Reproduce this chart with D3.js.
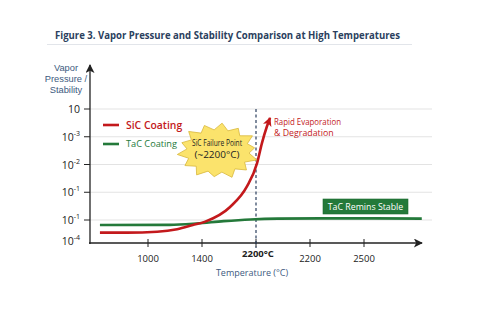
<!DOCTYPE html>
<html><head><meta charset="utf-8">
<script src="https://cdn.jsdelivr.net/npm/d3@7/dist/d3.min.js"></script>
<style>
html,body{margin:0;padding:0;background:#fff;}
svg{display:block;font-family:"Open Sans",sans-serif;}
</style></head>
<body>
<svg id="chart" width="500" height="333"></svg>
<script>
// ---- data ----
const title = "Figure 3. Vapor Pressure and Stability Comparison at High Temperatures";
const xTickLabels = ["1000", "1400", "2200°C", "2200", "2500"];     // positions 0..4
const yTickLevels = [0, 1, 2, 3, 4, 5];
const yTickBase = ["10", "10", "10", "10", "10", "10"];
const yTickExp = ["-4", "-1", "-1", "-2", "-3", ""];
const yLabelLines = ["Vapor", "Pressure /", "Stability"];
const burstLines = ["SiC Failure Point", "(~2200°C)"];
const failureX = 2; // index of 2200°C
// SiC coating curve: [x index, level]
const sicX = [-0.89, -0.39, 0.17, 0.54, 0.83, 1.06, 1.52, 1.83, 2.02, 2.11, 2.2, 2.26];
const sicY = [0.45, 0.45, 0.49, 0.6, 0.78, 0.93, 1.47, 2.2, 3.05, 3.77, 4.36, 4.68];
// TaC coating curve
const tacX = [-0.89, 0.4, 0.9, 1.4, 1.9, 2.4, 3.2, 4.2, 5.07];
const tacY = [0.78, 0.79, 0.85, 0.95, 1.02, 1.05, 1.06, 1.06, 1.05];

const red = "#c3191c", green = "#24793a", navy = "#2b3f5e", slate = "#3d5a80";

const svg = d3.select("#chart");
const x = d3.scaleLinear().domain([0, 4]).range([148, 364]);
const y = d3.scaleLinear().domain([0, 1, 5]).range([243, 220, 109]);
const x0 = 90, xEnd = 422, yTop = 65;

// defs arrow markers
const defs = svg.append("defs");
function marker(id, color, w, h) {
  defs.append("marker").attr("id", id).attr("viewBox", "0 0 10 10")
    .attr("refX", 9).attr("refY", 5).attr("markerWidth", w).attr("markerHeight", h)
    .attr("markerUnits", "userSpaceOnUse").attr("orient", "auto")
    .append("path").attr("d", "M0,0 L10,5 L0,10 L2.5,5 Z").attr("fill", color);
}
marker("axArrow", "#222", 12, 9);
marker("redArrow", red, 10, 9);

// title
svg.append("text").attr("x", 55).attr("y", 39).attr("fill", navy)
  .attr("font-size", 10.8).attr("font-weight", 700).text(title)
  .attr("textLength", 345).attr("lengthAdjust", "spacingAndGlyphs");
svg.append("line").attr("x1", 47).attr("x2", 412).attr("y1", 44.5).attr("y2", 44.5)
  .attr("stroke", "#e2e5ea").attr("stroke-width", 1);

// gridlines
svg.append("g").selectAll("line").data(yTickLevels.filter(d => d > 0)).join("line")
  .attr("x1", x0).attr("x2", 432).attr("y1", d => y(d)).attr("y2", d => y(d))
  .attr("stroke", "#e3e3e3").attr("stroke-width", 1);

// y axis
const yAxis = svg.append("g");
yAxis.append("line").attr("x1", x0).attr("x2", x0).attr("y1", y(0) + 1).attr("y2", yTop)
  .attr("stroke", "#222").attr("stroke-width", 1.3).attr("marker-end", "url(#axArrow)");
yAxis.selectAll("line.tk").data(yTickLevels.filter(d => d > 0)).join("line").attr("class", "tk")
  .attr("x1", x0 - 6).attr("x2", x0).attr("y1", d => y(d)).attr("y2", d => y(d))
  .attr("stroke", "#222").attr("stroke-width", 1);
const ytl = yAxis.selectAll("text.tl").data(yTickLevels).join("text").attr("class", "tl")
  .attr("x", 80).attr("y", d => y(d) + (d === 0 ? 2 : 4)).attr("text-anchor", "end")
  .attr("font-size", 10.5).attr("fill", "#222");
ytl.append("tspan").text((d, i) => yTickBase[i]);
ytl.append("tspan").attr("dy", -5).attr("font-size", 7).text((d, i) => yTickExp[i]);

// y label
svg.append("g").selectAll("text").data(yLabelLines).join("text")
  .attr("text-anchor", "middle").attr("font-family", "'Liberation Sans', Arial, sans-serif")
  .attr("font-size", 9.3).attr("fill", slate)
  .attr("x", 66).attr("y", (d, i) => 71 + i * 10.8).text(d => d);

// x axis
const xAxis = svg.append("g");
xAxis.append("line").attr("x1", x0 - 1).attr("x2", xEnd).attr("y1", y(0)).attr("y2", y(0))
  .attr("stroke", "#222").attr("stroke-width", 1.3).attr("marker-end", "url(#axArrow)");
xAxis.selectAll("line.tk").data(xTickLabels).join("line").attr("class", "tk")
  .attr("x1", (d, i) => x(i)).attr("x2", (d, i) => x(i)).attr("y1", y(0) - 4).attr("y2", y(0) + 4)
  .attr("stroke", "#222").attr("stroke-width", 1);
xAxis.selectAll("text").data(xTickLabels).join("text")
  .attr("x", (d, i) => x(i) + (i === failureX ? 2 : 0)).attr("y", (d, i) => i === failureX ? 257 : 262)
  .attr("text-anchor", "middle").attr("font-size", 9.5)
  .attr("font-weight", (d, i) => i === failureX ? 700 : 400).attr("fill", "#222").text(d => d);
svg.append("text").attr("x", 252).attr("y", 276).attr("text-anchor", "middle")
  .attr("font-size", 9).attr("fill", slate).text("Temperature (°C)");

// dashed failure line
svg.append("line").attr("x1", x(failureX)).attr("x2", x(failureX)).attr("y1", 109).attr("y2", 248)
  .attr("stroke", navy).attr("stroke-width", 1.2).attr("stroke-dasharray", "3,2.5");

// curves
const line = d3.line().x(d => x(d[0])).y(d => y(d[1])).curve(d3.curveMonotoneX);
svg.append("path").datum(d3.zip(tacX, tacY)).attr("d", line)
  .attr("fill", "none").attr("stroke", green).attr("stroke-width", 2.6);
svg.append("path").datum(d3.zip(sicX, sicY)).attr("d", line)
  .attr("fill", "none").attr("stroke", red).attr("stroke-width", 2.6).attr("marker-end", "url(#redArrow)");

// legend
const legend = [["SiC Coating", red, 125, 10.4, 600], ["TaC Coating", green, 144, 9.2, 400]];
legend.forEach(([t, c, yy, fs, fw]) => {
  svg.append("line").attr("x1", 103).attr("x2", 119).attr("y1", yy).attr("y2", yy)
    .attr("stroke", c).attr("stroke-width", 2.6);
  svg.append("text").attr("x", 126).attr("y", yy + fs * 0.36).attr("font-size", fs)
    .attr("font-weight", fw).attr("fill", c).text(t);
});

// starburst
const cx = 218, cy = 151, rx = 41, ry = 28;
const spikes = [1, 0.95, 1, 0.9, 1, 0.97, 1, 0.92, 1, 0.96, 1, 0.93, 1, 0.97];
const n = spikes.length;
const pts = d3.range(n * 2).map(i => {
  const a = Math.PI * i / n - Math.PI / 2 + 0.1;
  const r = i % 2 === 0 ? spikes[i / 2] : 0.76;
  return [cx + Math.cos(a) * rx * r, cy + Math.sin(a) * ry * r];
});
svg.append("path").attr("d", "M" + pts.join("L") + "Z")
  .attr("fill", "#fbe36c").attr("stroke", "#d8b83c").attr("stroke-width", 0.8);
svg.append("g").selectAll("text").data(burstLines).join("text")
  .attr("text-anchor", "middle").attr("font-size", 9).attr("fill", "#222")
  .attr("x", cx - 1).attr("y", (d, i) => 146 + i * 11.5).text(d => d)
  .attr("textLength", (d, i) => i === 0 ? 50 : 45).attr("lengthAdjust", "spacingAndGlyphs");

// rapid evaporation
svg.append("text").attr("font-size", 8.8).attr("fill", red)
  .selectAll("tspan").data(["Rapid Evaporation", "& Degradation"]).join("tspan")
  .attr("x", 274).attr("y", (d, i) => 125 + i * 11).text(d => d)
  .attr("textLength", (d, i) => i === 0 ? 67 : null).attr("lengthAdjust", "spacingAndGlyphs");

// TaC stable box
svg.append("rect").attr("x", 323).attr("y", 199).attr("width", 85).attr("height", 15)
  .attr("fill", green).attr("stroke", "#1c6a2f").attr("stroke-width", 0.6);
svg.append("text").attr("x", 365.5).attr("y", 209.5).attr("text-anchor", "middle")
  .attr("font-size", 8.8).attr("fill", "#fff").text("TaC Remins Stable");
</script>
</body></html>
